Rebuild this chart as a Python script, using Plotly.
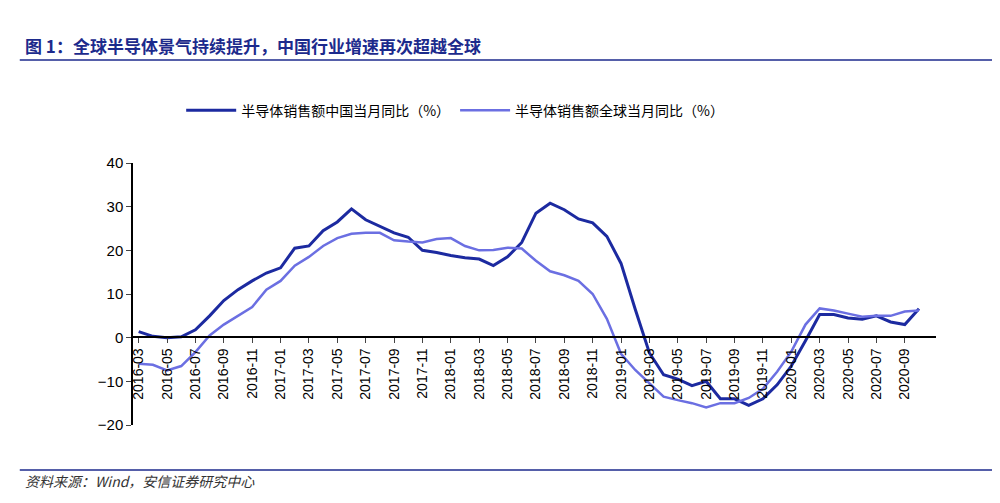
import plotly.graph_objects as go
import pandas as pd

months = pd.date_range("2016-03-01", periods=56, freq="MS").strftime("%Y-%m").tolist()
china = [1.4,0.3,0,0.2,1.8,5,8.5,11,13,14.8,16,20.5,21,24.5,26.5,29.5,27,25.5,24,23,20,19.5,18.8,18.3,18,16.5,18.5,21.8,28.5,30.8,29.3,27.2,26.3,23.2,17,6.5,-3.5,-8.5,-9.5,-11,-10,-14,-14,-15.5,-14,-10.8,-6.5,-0.7,5.3,5.3,4.5,4.2,5,3.6,3,6.6]
world = [-6,-6.2,-7.5,-6.5,-3.3,0.5,3,5,7,11,13,16.5,18.5,21,22.8,23.8,24,24,22.3,22,21.8,22.6,22.8,21,20,20.1,20.6,20.4,17.6,15.2,14.3,13,10,4.3,-3.7,-7.4,-10.5,-13.5,-14.3,-15,-16,-15,-15,-13.8,-11.7,-7.8,-3.2,3,6.7,6.2,5.5,4.8,5,5,6,6.2]
tick_labels = months[::2]

fig = go.Figure()
fig.add_trace(go.Scatter(x=months, y=china, mode="lines", name="半导体销售额中国当月同比（%）",
                         line=dict(color="#1c2aa0", width=3)))
fig.add_trace(go.Scatter(x=months, y=world, mode="lines", name="半导体销售额全球当月同比（%）",
                         line=dict(color="#6b6fe2", width=2.5)))

y0frac = (417-329)/(417-155)
fig.update_layout(
    width=1000, height=503, plot_bgcolor="white", paper_bgcolor="white",
    margin=dict(l=125, r=72, t=155, b=86),
    font=dict(family="Noto Sans CJK SC", color="black"),
    legend=dict(orientation="h", x=0.06, y=1.2, xanchor="left", yanchor="middle",
                font=dict(size=14), itemwidth=50, traceorder="normal"),
    xaxis=dict(type="category", categoryorder="array", categoryarray=months,
               tickmode="array", tickvals=tick_labels, ticktext=tick_labels,
               tickangle=-90, anchor="free", position=y0frac, showline=True,
               linecolor="black", linewidth=1.5, ticks="outside", ticklen=5,
               tickfont=dict(size=14, family="Liberation Sans"), range=[-0.4, 56.2],
               showgrid=False, zeroline=False),
    yaxis=dict(range=[-20, 40], dtick=10, showline=True, linecolor="black", linewidth=1.5,
               ticks="outside", ticklen=5, showgrid=False, zeroline=False,
               tickfont=dict(size=15, family="Liberation Sans")),
    annotations=[
        dict(text="<b>图 1：全球半导体景气持续提升，中国行业增速再次超越全球</b>", xref="paper", yref="paper",
             x=-0.137, y=1.447, xanchor="left", yanchor="middle", showarrow=False,
             font=dict(size=17, color="#1c2a8c")),
        dict(text="<i>资料来源：Wind，安信证券研究中心</i>", xref="paper", yref="paper",
             x=-0.137, y=-0.215, xanchor="left", yanchor="middle", showarrow=False,
             font=dict(size=14, color="#333"))
    ],
    shapes=[
        dict(type="line", xref="paper", yref="paper", x0=-0.141, x1=1.07, y0=1.393, y1=1.393,
             line=dict(color="#1c2a8c", width=1.5)),
        dict(type="line", xref="paper", yref="paper", x0=-0.141, x1=1.07, y0=-0.172, y1=-0.172,
             line=dict(color="#1c2a8c", width=1.5)),
    ],
)
fig.write_html("out.html")
